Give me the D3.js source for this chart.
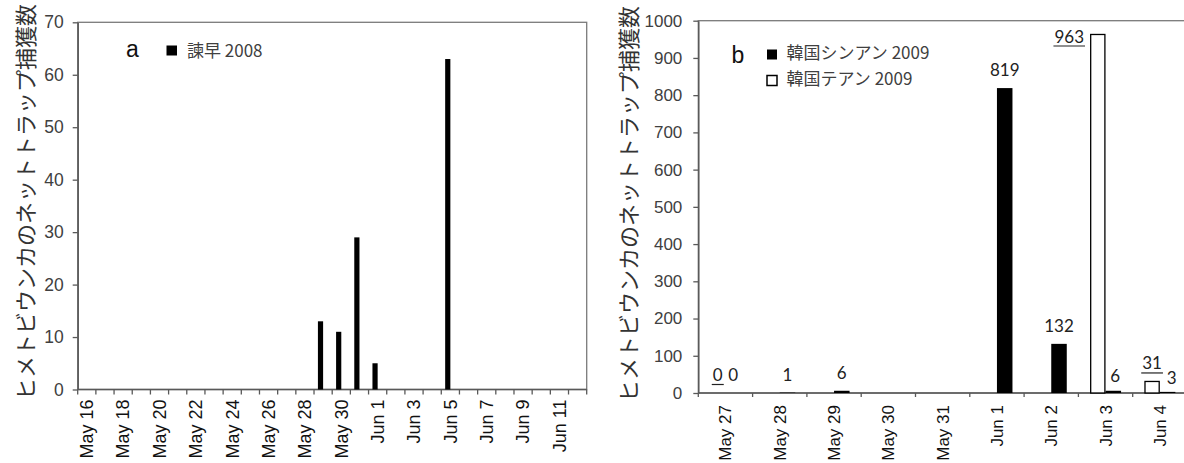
<!DOCTYPE html>
<html>
<head>
<meta charset="utf-8">
<script src="https://cdn.jsdelivr.net/npm/d3@7"></script>
<style>
  body { margin: 0; background: #fff; }
  svg { display: block; }
</style>
</head>
<body>
<svg id="chart" width="1184" height="463"></svg>
<script>
// ---- Panel a: 諫早 2008 (daily catches) ----
const datesA = [
  "May 16","May 17","May 18","May 19","May 20","May 21","May 22","May 23",
  "May 24","May 25","May 26","May 27","May 28","May 29","May 30","May 31",
  "Jun 1","Jun 2","Jun 3","Jun 4","Jun 5","Jun 6","Jun 7","Jun 8",
  "Jun 9","Jun 10","Jun 11","Jun 12"
];
const isahaya2008 = [
  0, 0, 0, 0, 0, 0, 0, 0,
  0, 0, 0, 0, 0, 13, 11, 29,
  5, 0, 0, 0, 63, 0, 0, 0,
  0, 0, 0, 0
];
const tickLabelsA = ["May 16","May 18","May 20","May 22","May 24","May 26","May 28",
  "May 30","Jun 1","Jun 3","Jun 5","Jun 7","Jun 9","Jun 11"];
const yTicksA = [0, 10, 20, 30, 40, 50, 60, 70];
const seriesNameA = "諫早 2008";

// ---- Panel b: 韓国 2009 (two sites) ----
const datesB = ["May 27","May 28","May 29","May 30","May 31","Jun 1","Jun 2","Jun 3","Jun 4"];
const sinan2009 = [0, 1, 6, null, null, 819, 132, 6, 3];
const taean2009 = [0, null, null, null, null, null, null, 963, 31];
const yTicksB = [0, 100, 200, 300, 400, 500, 600, 700, 800, 900, 1000];
const seriesNamesB = ["韓国シンアン 2009", "韓国テアン 2009"];

const yTitle = "ヒメトビウンカのネットトラップ捕獲数";

const LATIN = "'Liberation Sans', Arial, sans-serif";
const CJK = "'Noto Sans CJK JP', 'Liberation Sans', sans-serif";
const LABEL = "Lato, 'Open Sans', sans-serif";
const AXIS_COL = "#595959";
const TEXT_COL = "#404040";

const svg = d3.select("#chart");

function drawFrame(x, y, yTicks, opt) {
  const [x0, x1] = x.range();
  const [yb, yt] = y.range();
  // plot frame (top / right)
  svg.append("rect")
    .attr("x", x0).attr("y", yt)
    .attr("width", x1 - x0).attr("height", yb - yt)
    .attr("fill", "none").attr("stroke", "#7a7a7a").attr("stroke-width", 1.3);

  // y axis
  const gy = svg.append("g")
    .attr("transform", `translate(${x0},0)`)
    .call(d3.axisLeft(y).tickValues(yTicks).tickFormat(d3.format("d"))
      .tickSize(5).tickSizeOuter(0).tickPadding(opt.yPad));
  gy.attr("font-family", LATIN).attr("font-size", opt.yFont);
  gy.select(".domain").attr("stroke", AXIS_COL).attr("stroke-width", 1.5);
  gy.selectAll(".tick line").attr("stroke", AXIS_COL).attr("stroke-width", 1.3);
  gy.selectAll(".tick text").attr("fill", TEXT_COL);

  // x axis: baseline with ticks between categories
  const gx = svg.append("g");
  gx.append("line")
    .attr("x1", x0).attr("x2", x1).attr("y1", yb).attr("y2", yb)
    .attr("stroke", AXIS_COL).attr("stroke-width", 1.5);
  const bounds = x.domain().map(d => x(d)).concat([x1]);
  gx.selectAll("line.tk").data(bounds).join("line")
    .attr("class", "tk")
    .attr("x1", d => d).attr("x2", d => d)
    .attr("y1", yb).attr("y2", yb + opt.xTick)
    .attr("stroke", AXIS_COL).attr("stroke-width", 1.3);
  gx.selectAll("text").data(opt.xLabels).join("text")
    .attr("transform", d => `translate(${x(d) + x.bandwidth() / 2},${yb + opt.xPad}) rotate(-90)`)
    .attr("text-anchor", "end")
    .attr("dy", "0.35em")
    .attr("font-family", LATIN)
    .attr("font-size", opt.xFont)
    .attr("fill", "#111")
    .text(d => d);

  // y title
  svg.append("text")
    .attr("transform", `translate(${opt.titleX},${opt.titleY}) rotate(-90)`)
    .attr("text-anchor", "middle")
    .attr("dominant-baseline", "central")
    .attr("font-family", CJK)
    .attr("font-size", 22)
    .attr("fill", "#333")
    .text(yTitle);
}

// ================= Panel a =================
const xA = d3.scaleBand().domain(datesA).range([77.7, 586.7]).paddingInner(0).paddingOuter(0);
const yA = d3.scaleLinear().domain([0, 70]).range([389.5, 22.3]);

drawFrame(xA, yA, yTicksA, {
  yFont: 17.5, yPad: 9, xTick: 5, xPad: 10, xFont: 18,
  xLabels: tickLabelsA, titleX: 24, titleY: 202
});

const barWA = xA.step() / 3.5;
svg.append("g").selectAll("rect")
  .data(datesA.map((d, i) => ({ d, v: isahaya2008[i] })).filter(o => o.v))
  .join("rect")
  .attr("x", o => xA(o.d) + xA.bandwidth() / 2 - barWA)
  .attr("width", barWA)
  .attr("y", o => yA(o.v))
  .attr("height", o => yA(0) - yA(o.v))
  .attr("fill", "#000");

// legend a
svg.append("text").attr("x", 126).attr("y", 57).attr("font-family", LATIN)
  .attr("font-size", 23).attr("fill", "#111").text("a");
svg.append("rect").attr("x", 166.5).attr("y", 45.5).attr("width", 10.5).attr("height", 10)
  .attr("fill", "#000");
svg.append("text").attr("x", 187).attr("y", 56.5).attr("font-family", CJK)
  .attr("font-size", 17).attr("fill", TEXT_COL).text(seriesNameA);

// ================= Panel b =================
const xB = d3.scaleBand().domain(datesB).range([698.3, 1187]).paddingInner(0).paddingOuter(0);
const yB = d3.scaleLinear().domain([0, 1000]).range([393, 20.7]);

drawFrame(xB, yB, yTicksB, {
  yFont: 17, yPad: 11, xTick: 4, xPad: 12, xFont: 17,
  xLabels: datesB, titleX: 627, titleY: 204
});

const barWB = xB.step() / 3.5;
const rowsB = [];
datesB.forEach((d, i) => {
  if (taean2009[i] != null) rowsB.push({ d, v: taean2009[i], s: 0 });
  if (sinan2009[i] != null) rowsB.push({ d, v: sinan2009[i], s: 1 });
});
const barX = o => xB(o.d) + xB.bandwidth() / 2 + (o.s === 0 ? -barWB : 0);

svg.append("g").selectAll("rect")
  .data(rowsB.filter(o => o.v > 0))
  .join("rect")
  .attr("x", o => barX(o) + (o.s === 0 ? 0.65 : 0))
  .attr("width", o => barWB - (o.s === 0 ? 1.3 : 0))
  .attr("y", o => yB(o.v))
  .attr("height", o => yB(0) - yB(o.v))
  .attr("fill", o => o.s === 0 ? "#fff" : "#000")
  .attr("stroke", o => o.s === 0 ? "#000" : "none")
  .attr("stroke-width", 1.3);

// value labels; a few are nudged to stay clear of the neighbouring bar or frame
function labelPos(o) {
  const cx = barX(o) + barWB / 2;
  const top = yB(o.v);
  if (o.s === 0 && o.v === 963) return { x: barX(o) - 6, y: 42.5, anchor: "end" };
  if (o.s === 1 && o.d === "Jun 3") return { x: cx + 2, y: top - 8.5, anchor: "middle" };
  if (o.s === 1 && o.d === "Jun 4") return { x: cx + 4, y: top - 7.5, anchor: "middle" };
  return { x: cx, y: top - 12, anchor: "middle" };
}

const lbl = svg.append("g").selectAll("g").data(rowsB).join("g");
lbl.each(function (o) {
  const p = labelPos(o);
  const g = d3.select(this);
  const t = g.append("text")
    .attr("x", p.x).attr("y", p.y)
    .attr("text-anchor", p.anchor)
    .attr("font-family", LABEL)
    .attr("font-size", 17)
    .attr("fill", "#222")
    .text(o.v);
  if (o.s === 0) {
    const bb = t.node().getBBox();
    g.append("line")
      .attr("x1", bb.x - 1).attr("x2", bb.x + bb.width + 1)
      .attr("y1", p.y + 3.5).attr("y2", p.y + 3.5)
      .attr("stroke", "#222").attr("stroke-width", 1.2);
  }
});

// legend b
svg.append("text").attr("x", 731.5).attr("y", 63).attr("font-family", LATIN)
  .attr("font-size", 23).attr("fill", "#111").text("b");
seriesNamesB.forEach((name, i) => {
  const yy = 49.5 + i * 26;
  svg.append("rect").attr("x", 767).attr("y", yy).attr("width", 10).attr("height", 10)
    .attr("fill", i === 0 ? "#000" : "#fff")
    .attr("stroke", "#000").attr("stroke-width", i === 0 ? 0 : 1.5);
  svg.append("text").attr("x", 786.5).attr("y", yy + 9).attr("font-family", CJK)
    .attr("font-size", 17).attr("fill", TEXT_COL).text(name);
});
</script>
</body>
</html>
